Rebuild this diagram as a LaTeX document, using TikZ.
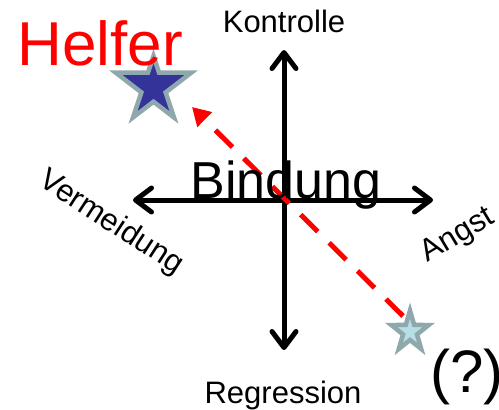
\documentclass[tikz,border=0pt]{standalone}
\usepackage{fontspec}
\setmainfont{Liberation Sans}
\usetikzlibrary{arrows.meta}

\definecolor{grisestrella}{RGB}{143,168,172}
\definecolor{azulestrella}{RGB}{51,51,153}
\definecolor{celeste}{RGB}{182,222,228}

% Estrella de cinco puntas: centro, dy arriba, dx/dy lados, dx/dy abajo, relleno
\newcommand{\estrella}[7]{%
  \path (#1) ++(0,#2)    coordinate (pT)
        (#1) ++(-#3,#4)  coordinate (pL)
        (#1) ++(#3,#4)   coordinate (pR)
        (#1) ++(-#5,#6)  coordinate (pBL)
        (#1) ++(#5,#6)   coordinate (pBR);
  \draw[borde=#7] (pT)
    -- (intersection of pT--pBR and pL--pR) -- (pR)
    -- (intersection of pR--pBL and pT--pBR) -- (pBR)
    -- (intersection of pBR--pL and pR--pBL) -- (pBL)
    -- (intersection of pBL--pT and pBR--pL) -- (pL)
    -- (intersection of pL--pR and pBL--pT) -- cycle;
}

\begin{document}
\begin{tikzpicture}[x=1pt,y=-1pt,
    eje/.style={line width=5pt,
      {Straight Barb[length=16pt,width=24pt,round]}-{Straight Barb[length=16pt,width=24pt,round]}},
    flecha/.style={red, line width=5pt, dash pattern=on 24pt off 16pt,
      -{Triangle[length=18pt,width=20pt]}},
    etiqueta/.style={inner sep=0pt, font=\fontsize{31}{31}\selectfont},
    borde/.style={draw=grisestrella, line width=4.5pt, fill=#1}]
  \useasboundingbox (0,0) rectangle (499,410);

  %——————————————————————————————————————————————
  % Ejes: Kontrolle / Regression y Vermeidung / Angst
  %——————————————————————————————————————————————
  \coordinate (arriba)    at (284,50);
  \coordinate (abajo)     at (284,350);
  \coordinate (izquierda) at (133,200);
  \coordinate (derecha)   at (433,200);
  \draw[eje] (abajo) -- (arriba);
  \draw[eje] (izquierda) -- (derecha);

  %——————————————————————————————————————————————
  % Flecha discontinua desde (?) hacia Helfer
  %——————————————————————————————————————————————
  \coordinate (inicio) at (403,316);
  \coordinate (punta)  at (192,107);
  \draw[flecha] (inicio) -- (punta);

  %——————————————————————————————————————————————
  % Estrellas
  %——————————————————————————————————————————————
  \coordinate (helfer) at (153.5,88);
  \coordinate (frage)  at (410,330);
  \estrella{helfer}{-32}{38}{-15.5}{20.5}{29.5}{azulestrella}
  \estrella{frage}{-19.5}{18.75}{-5}{11.25}{19}{celeste}

  %——————————————————————————————————————————————
  % Etiquetas
  %——————————————————————————————————————————————
  \node[etiqueta, anchor=base] (kontrolle)  at (284,32)  {Kontrolle};
  \node[etiqueta, anchor=base] (regression) at (283,403) {Regression};
  \node[etiqueta, rotate=-33]  (vermeidung) at (111,223) {Vermeidung};
  \node[etiqueta, rotate=31]   (angst)      at (458,236) {Angst};
  \node[inner sep=0pt, anchor=base, font=\fontsize{52}{52}\selectfont]
    (bindung) at (286,198) {Bindung};
  \node[inner sep=0pt, anchor=base, red, font=\fontsize{62}{62}\selectfont]
    (helfertext) at (100,65) {Helfer};
  \node[inner sep=0pt, anchor=base, font=\fontsize{60}{60}\selectfont]
    (fragetext) at (467,392) {(?)};
\end{tikzpicture}
\end{document}
